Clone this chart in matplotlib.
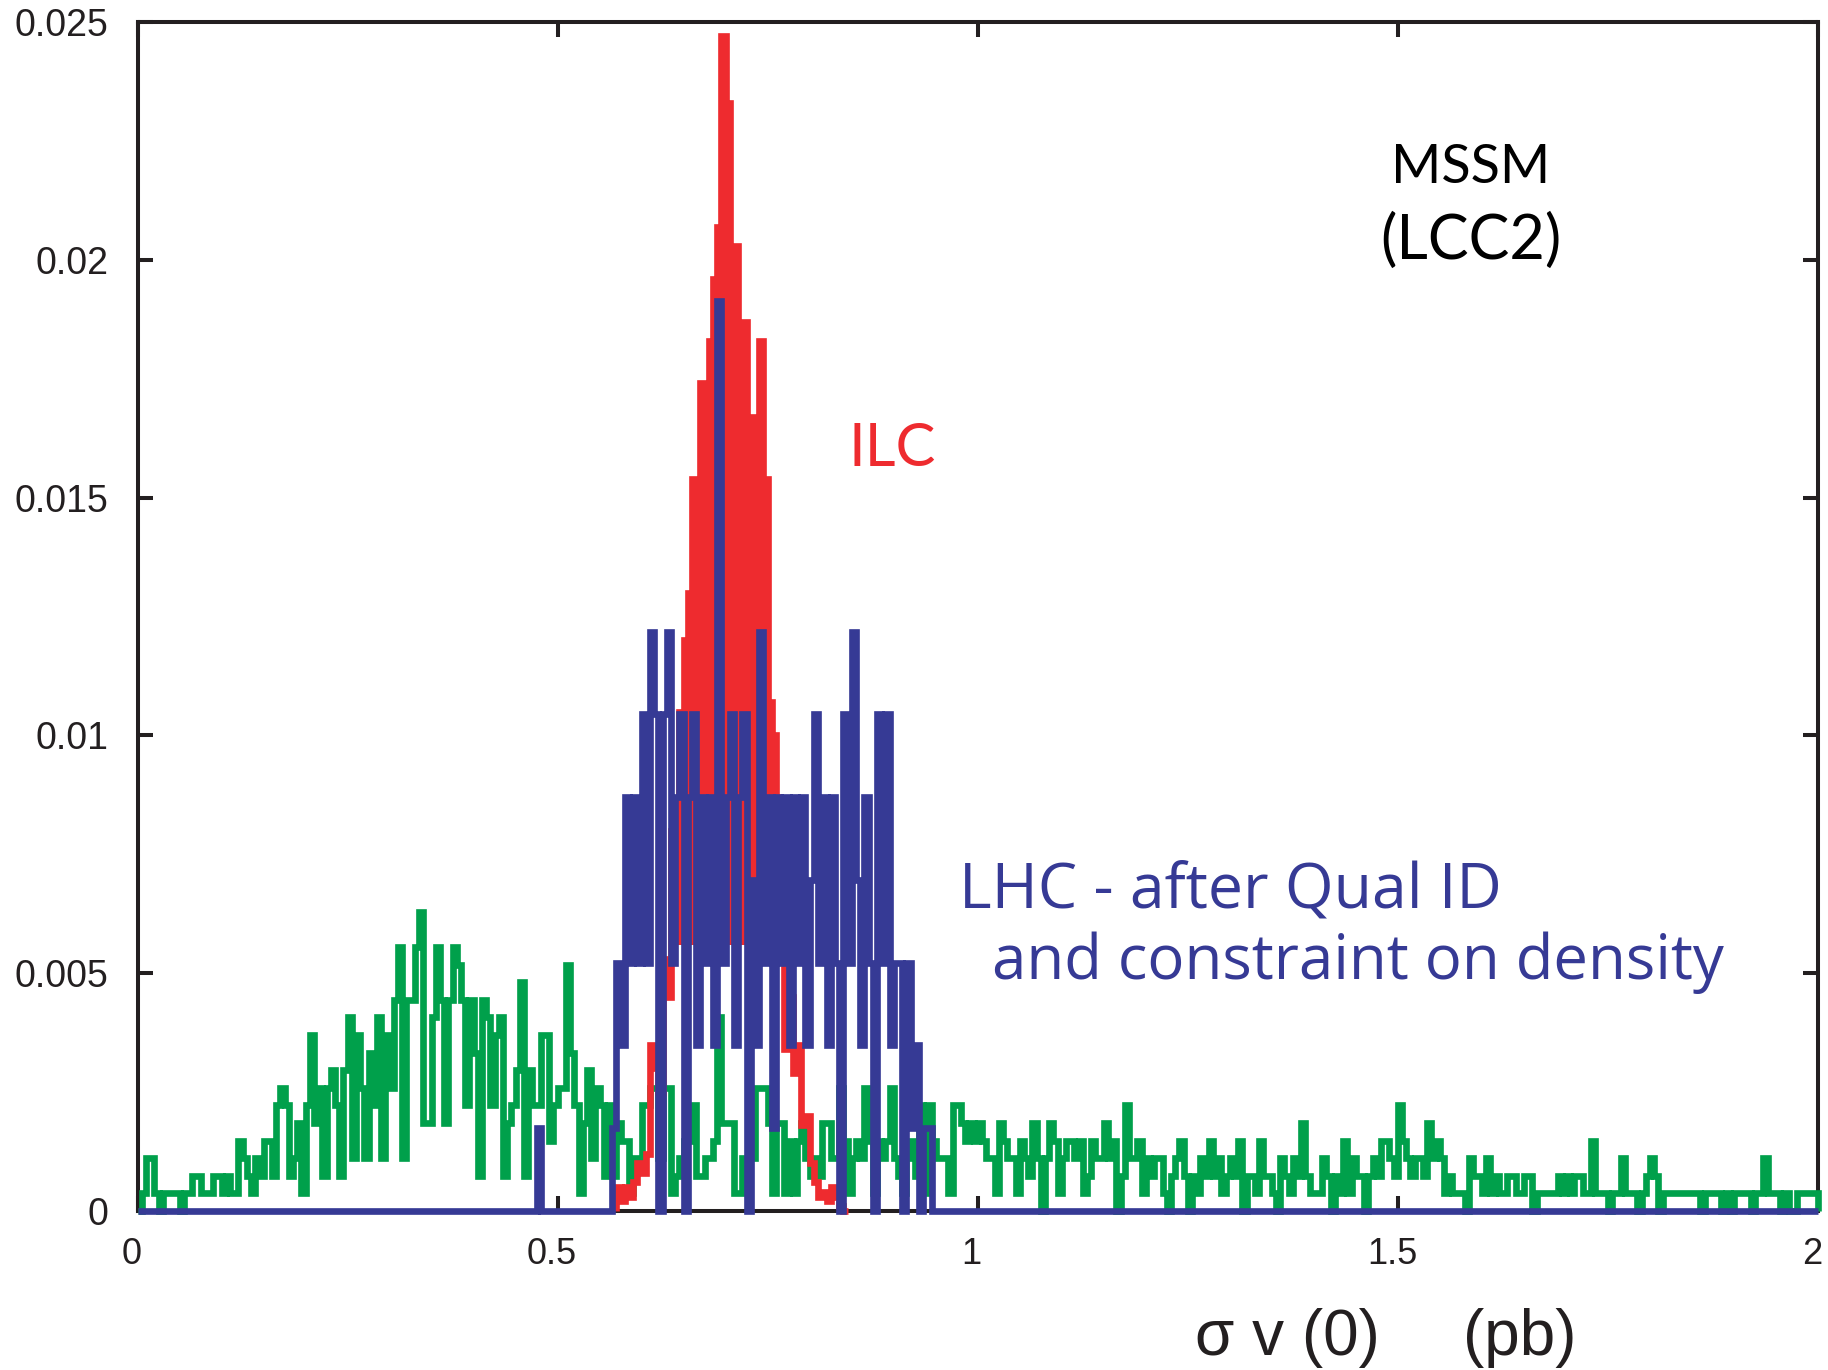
import numpy as np
import matplotlib
matplotlib.use("Agg")
import matplotlib.pyplot as plt
from matplotlib.transforms import ScaledTranslation
from matplotlib.patches import Rectangle

# ---------------- data ----------------
x_min, x_max, n_bins = 0.0, 2.0, 400          # histogram bins of width 0.005

# LHC (green): counts per bin, one count = 0.00037
green_unit = 0.00037
green_counts = [
    0, 1, 3, 3, 1, 0, 1, 1, 1, 1,
    0, 1, 1, 2, 2, 1, 1, 1, 2, 2,
    1, 2, 1, 1, 4, 3, 2, 1, 3, 2,
    4, 4, 2, 6, 7, 6, 2, 3, 5, 1,
    6, 10, 5, 7, 2, 7, 8, 6, 2, 8,
    11, 3, 10, 7, 3, 9, 6, 11, 3, 10,
    7, 12, 15, 3, 12, 12, 15, 17, 5, 5,
    11, 15, 12, 5, 12, 15, 14, 12, 6, 12,
    9, 2, 12, 11, 6, 10, 11, 2, 5, 6,
    8, 13, 2, 8, 6, 6, 10, 10, 4, 6,
    7, 7, 14, 9, 6, 1, 5, 8, 3, 7,
    6, 2, 6, 2, 5, 4, 4, 1, 3, 3,
    6, 6, 7, 7, 3, 7, 7, 1, 2, 3,
    4, 4, 6, 2, 2, 3, 3, 4, 11, 5,
    5, 5, 1, 1, 3, 3, 3, 7, 7, 7,
    5, 1, 5, 5, 1, 4, 1, 4, 5, 3,
    2, 3, 2, 5, 5, 3, 3, 7, 4, 1,
    3, 4, 3, 7, 4, 1, 4, 3, 4, 7,
    3, 2, 1, 3, 4, 2, 6, 1, 6, 4,
    3, 3, 3, 1, 6, 6, 5, 4, 5, 4,
    5, 4, 3, 3, 1, 5, 4, 3, 3, 1,
    4, 3, 2, 5, 3, 0, 3, 5, 4, 1,
    3, 4, 4, 3, 4, 1, 2, 4, 3, 3,
    5, 3, 4, 0, 2, 6, 3, 3, 4, 1,
    3, 2, 3, 3, 1, 0, 2, 3, 4, 2,
    0, 2, 1, 3, 2, 4, 2, 3, 1, 2,
    3, 2, 4, 0, 2, 2, 1, 4, 2, 2,
    1, 0, 3, 2, 1, 3, 2, 5, 2, 1,
    1, 1, 3, 2, 0, 2, 1, 4, 1, 3,
    2, 2, 0, 2, 3, 2, 4, 4, 3, 2,
    6, 4, 3, 2, 3, 3, 2, 5, 3, 4,
    3, 1, 2, 1, 1, 1, 0, 3, 2, 2,
    1, 3, 1, 2, 1, 1, 2, 2, 1, 1,
    2, 2, 0, 1, 1, 1, 1, 1, 2, 1,
    2, 1, 2, 2, 1, 1, 4, 1, 1, 1,
    0, 1, 1, 3, 1, 1, 1, 0, 1, 2,
    3, 2, 0, 1, 1, 1, 1, 1, 1, 1,
    1, 1, 0, 1, 1, 1, 1, 0, 1, 0,
    1, 1, 1, 1, 0, 1, 1, 3, 1, 1,
    1, 0, 1, 0, 0, 1, 1, 1, 1, 1,
]

# LHC after Qual ID (blue): counts per bin, one count = 0.00174; bins 95..189
blue_unit = 0.00174
blue_first_bin = 95
blue_counts = [
    1, 0, 0, 0, 0, 0, 0, 0, 0, 0, 0, 0, 0, 0, 0, 0, 0, 0,
    1, 3, 2, 5, 3, 5, 3, 6, 3, 7, 6, 0, 6, 7, 3, 5, 6, 0,
    5, 6, 2, 5, 3, 5, 2, 11, 3, 5, 6, 2, 5, 6, 0, 4, 2, 7,
    3, 5, 1, 5, 3, 5, 2, 5, 3, 5, 2, 4, 6, 3, 5, 2, 5, 3,
    0, 6, 3, 7, 4, 2, 5, 3, 0, 6, 3, 6, 2, 3, 3, 0, 3, 1,
    2, 0, 1, 1, 0,
]

# ILC (red): values per bin (units of 0.001); bins 114..168
red_first_bin = 114
red_values = [
    0.5, 0.2, 0.5, 0.3, 0.6, 1.0, 0.8, 1.2, 3.5, 3.0,
    2.5, 5.3, 4.5, 8.0, 7.0, 10.5, 12.0, 13.0, 15.4, 15.0,
    17.4, 17.0, 18.3, 19.6, 20.7, 24.7, 23.3, 17.8, 20.3, 16.2,
    18.7, 14.2, 16.7, 14.6, 18.3, 15.4, 10.7, 10.0, 8.7, 6.0,
    3.4, 4.5, 2.9, 3.5, 1.8, 2.0, 1.0, 0.6, 0.3, 0.4,
    0.2, 0.5, 0.3, 0.1, 0.0,
]

x_ticks = [0, 0.5, 1, 1.5, 2]
x_tick_labels = ["0", "0.5", "1", "1.5", "2"]
y_ticks = [0, 0.005, 0.01, 0.015, 0.02, 0.025]
y_tick_labels = ["0", "0.005", "0.01", "0.015", "0.02", "0.025"]

# ---------------- styling ----------------
GREEN = "#00A04B"
RED = "#EE2B2F"
BLUE = "#363A95"
INK = "#231F20"
W, H = 1828, 1370

fig = plt.figure(figsize=(W / 100, H / 100), dpi=100)
L, R, T, B = 137.5, 1818, 22, 1211
ax = fig.add_axes([L / W, 1 - B / H, (R - L) / W, (B - T) / H])

edges = np.linspace(x_min, x_max, n_bins + 1)
green = np.asarray(green_counts, float) * green_unit

blue = np.zeros(n_bins)
blue[blue_first_bin:blue_first_bin + len(blue_counts)] = np.asarray(blue_counts, float) * blue_unit

red = np.asarray(red_values, float) * 1e-3
red_edges = edges[red_first_bin:red_first_bin + len(red_values) + 1]

lw = 4.8
ax.stairs(green, edges, baseline=0, color=GREEN, lw=lw, zorder=3, clip_on=False)
# the dense, finely binned ILC peak reads as a solid shape above the blue band
red_fill = ax.stairs(red, red_edges, baseline=0, color=RED, fill=True, lw=0, zorder=4)
red_fill.set_clip_path(Rectangle((x_min, 0.0056), x_max - x_min, 0.03, transform=ax.transData))
ax.stairs(red, red_edges, baseline=0, color=RED, lw=lw, zorder=4, clip_on=False)
ax.stairs(blue, edges, baseline=0, color=BLUE, lw=lw, zorder=5, clip_on=False)

ax.set_xlim(0, 2)
ax.set_ylim(0, 0.025)
ax.set_xticks(x_ticks)
ax.set_xticklabels(x_tick_labels)
ax.set_yticks(y_ticks)
ax.set_yticklabels(y_tick_labels)

for s in ax.spines.values():
    s.set_linewidth(2.9)
    s.set_color(INK)
    s.set_zorder(2)
ax.tick_params(direction="in", length=10.5, width=2.9, color=INK,
               top=True, right=True)
ax.tick_params(axis="x", labelsize=26, pad=19)
ax.tick_params(axis="y", labelsize=27, pad=21)
shift = ScaledTranslation(-6 / 100, 0, fig.dpi_scale_trans)
for lab in ax.get_xticklabels():
    lab.set_transform(lab.get_transform() + shift)
for lab in ax.get_xticklabels() + ax.get_yticklabels():
    lab.set_fontfamily("Liberation Sans")
    lab.set_color(INK)

tfont = "Lato"
def ftext(x, y, s, **kw):
    fig.text(x / W, 1 - y / H, s, **kw)

ftext(1471, 183, "MSSM", ha="center", va="baseline", fontsize=39, family=tfont, color="black")
ftext(1471, 259, "(LCC2)", ha="center", va="baseline", fontsize=44, family=tfont, color="black")
ftext(848, 466, "ILC", ha="left", va="baseline", fontsize=43, family=tfont, color=RED)
ftext(959, 907, "LHC - after Qual ID", ha="left", va="baseline", fontsize=45,
      family="Open Sans", color=BLUE)
ftext(992, 979, "and constraint on density", ha="left", va="baseline", fontsize=44.5,
      family="Open Sans", color=BLUE)

ftext(1195, 1355, "\u03c3 v (0)", ha="left", va="baseline", fontsize=46,
      family="Liberation Sans", color=INK)
ftext(1463, 1355, "(pb)", ha="left", va="baseline", fontsize=46,
      family="Liberation Sans", color=INK)

fig.savefig("out.png", dpi=100, facecolor="white")
